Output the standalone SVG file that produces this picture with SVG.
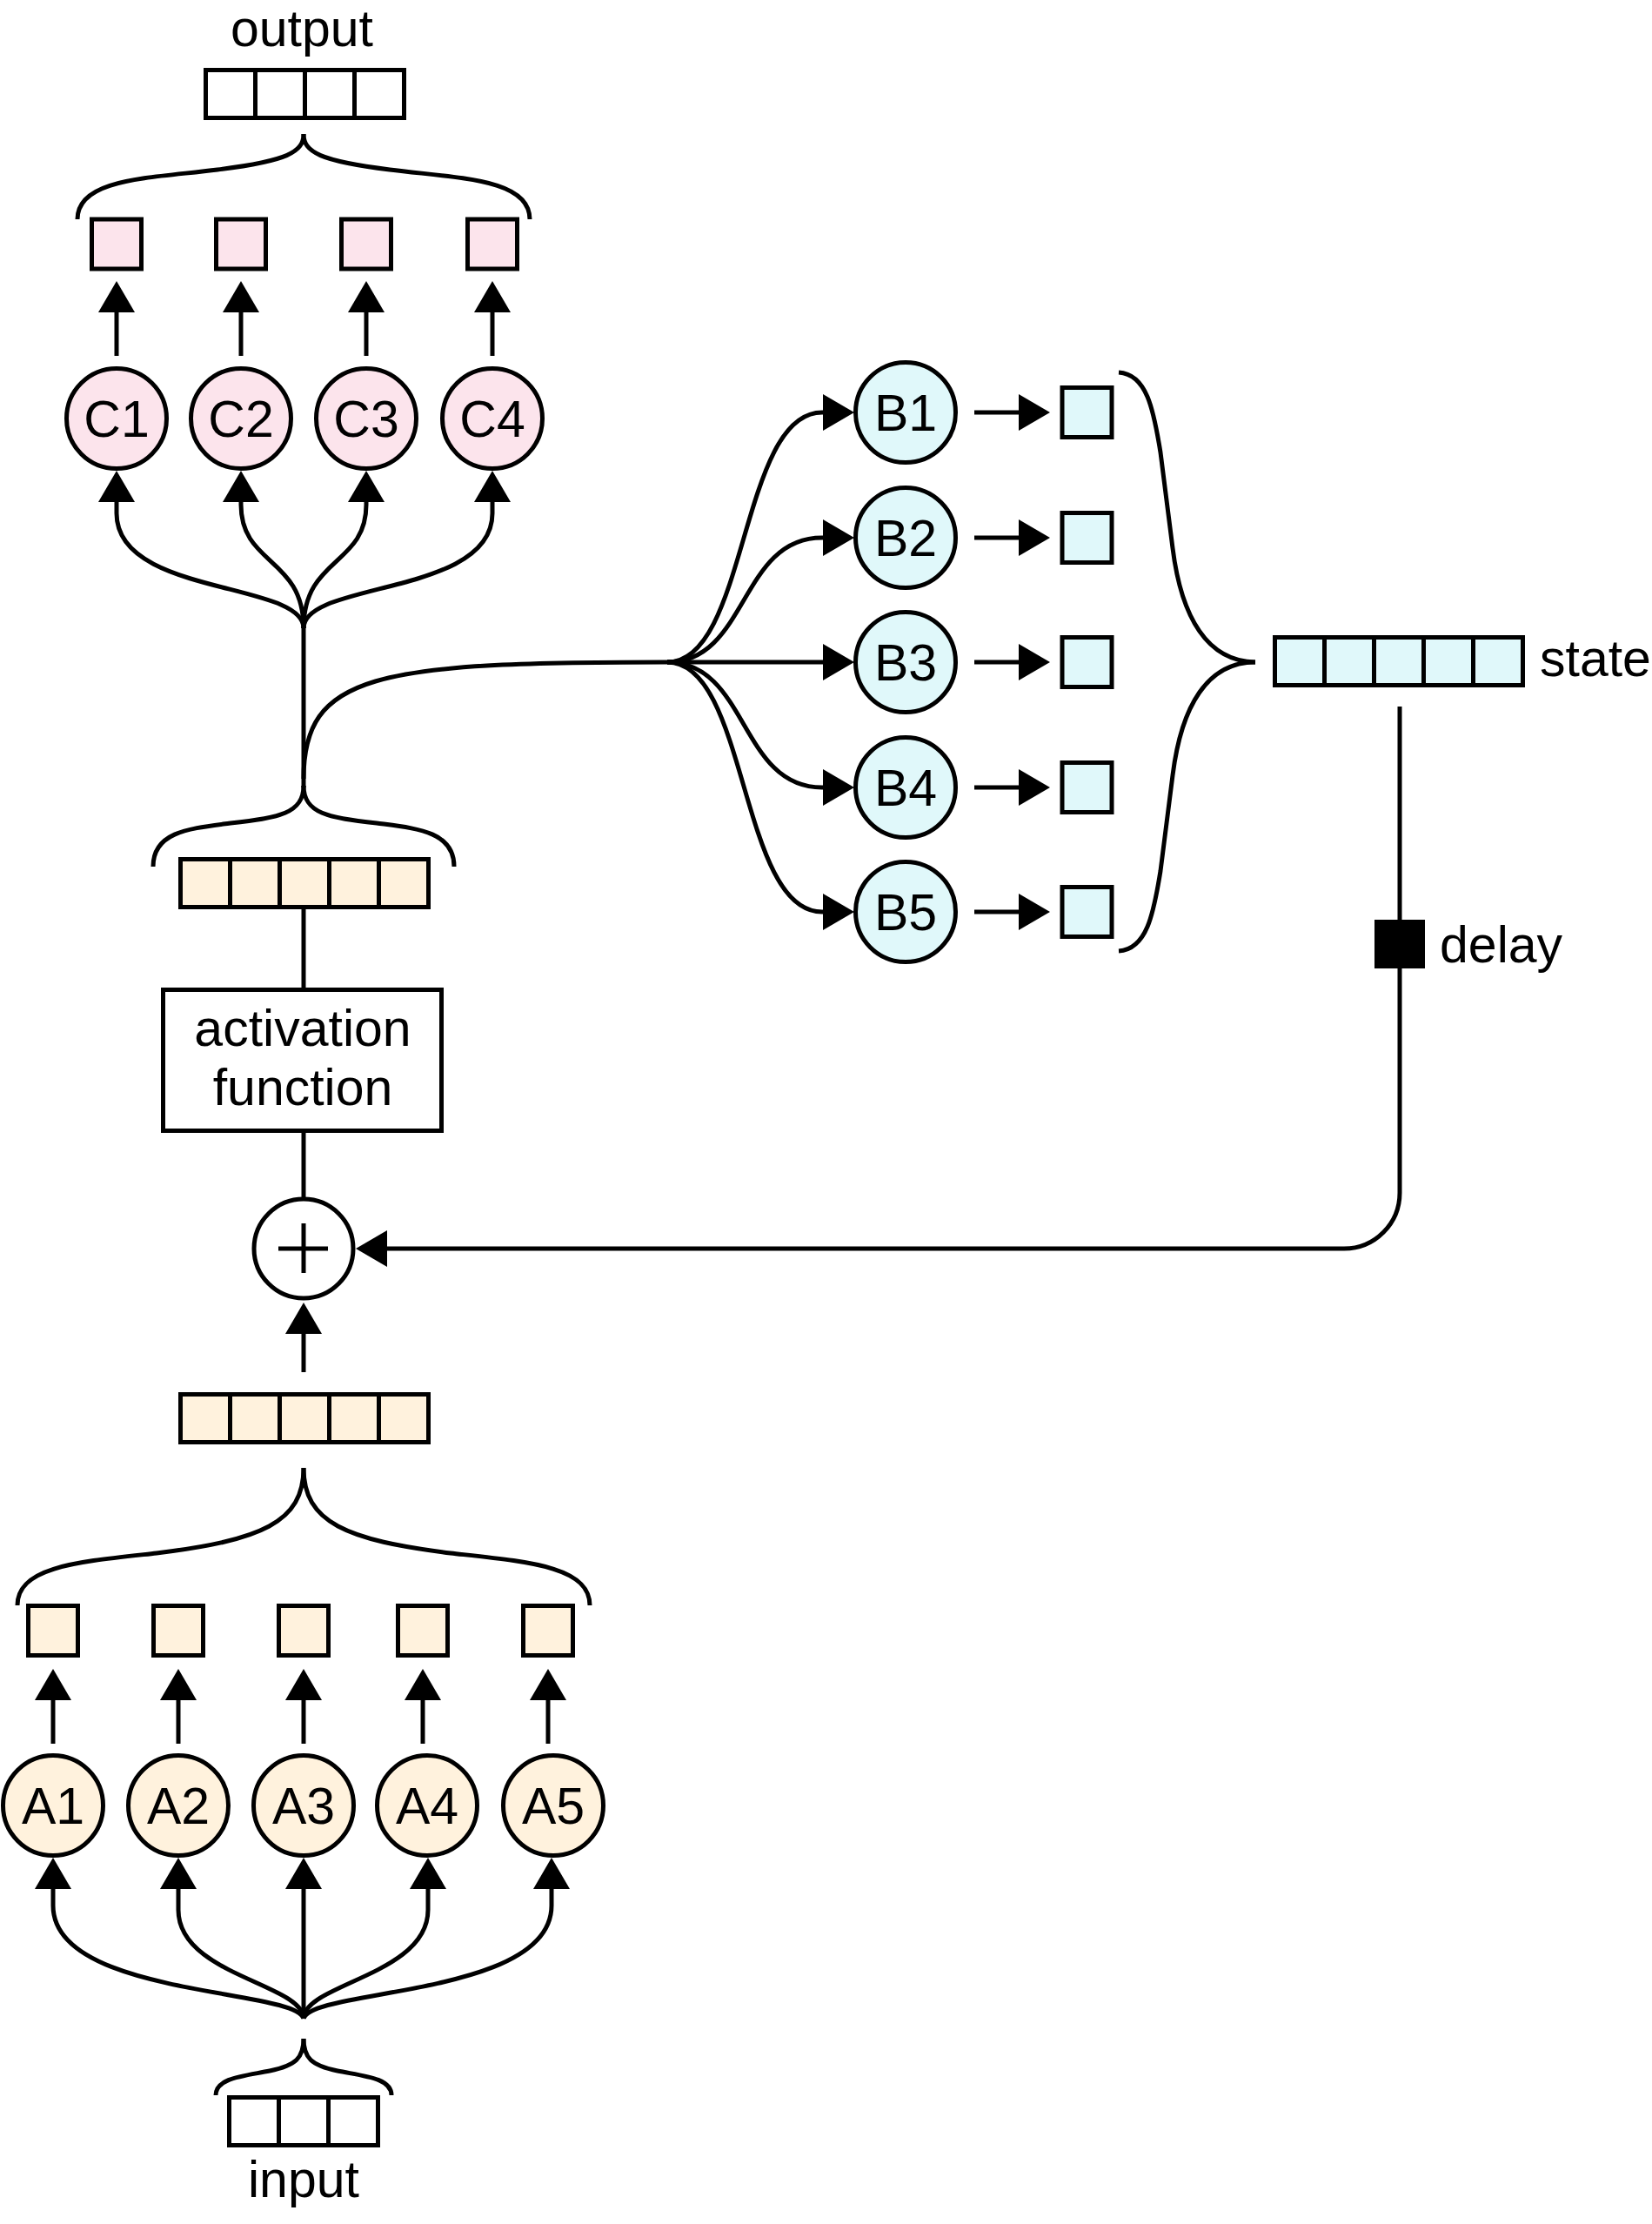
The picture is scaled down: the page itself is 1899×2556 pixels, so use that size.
<svg xmlns="http://www.w3.org/2000/svg" width="1899" height="2556" viewBox="0 0 1899 2556">
<style>
  .ln{fill:none;stroke:#000;stroke-width:5}
  .arr{fill:none;stroke:#000;stroke-width:5;marker-end:url(#ah)}
  .box{stroke:#000;stroke-width:5}
  .pink{fill:#FCE4EC}
  .cream{fill:#FFF2DD}
  .cyan{fill:#E0F8FA}
  .white{fill:#FFFFFF}
  .t{font-family:"Liberation Sans",Arial,Helvetica,sans-serif;font-size:59px;fill:#000}
  .c{text-anchor:middle}
</style>
<defs>
  <marker id="ah" markerUnits="userSpaceOnUse" viewBox="0 0 36 42" markerWidth="36" markerHeight="42" refX="20" refY="21" orient="auto">
    <path d="M0,0 L36,21 L0,42 z" fill="#000"/>
  </marker>
</defs>
<rect width="1899" height="2556" fill="#FFFFFF"/>

<!-- connectors -->
<g id="connectors">
  <!-- output brace -->
  <path class="ln" d="M89,252 C89,205 170,205 250,195 C330,185 349,175 349,154"/>
  <path class="ln" d="M609,252 C609,205 528,205 448,195 C368,185 349,175 349,154"/>
  <!-- C to squares -->
  <path class="arr" d="M134,409 L134,339"/>
  <path class="arr" d="M277,409 L277,339"/>
  <path class="arr" d="M421,409 L421,339"/>
  <path class="arr" d="M566,409 L566,339"/>
  <!-- trunk to C -->
  <path class="arr" d="M349,722 C349,668 134,685 134,590 L134,557"/>
  <path class="arr" d="M349,722 C349,640 277,650 277,580 L277,557"/>
  <path class="arr" d="M349,722 C349,640 421,650 421,580 L421,557"/>
  <path class="arr" d="M349,722 C349,668 566,685 566,590 L566,557"/>
  <path class="ln" d="M349,905 L349,720"/>
  <!-- branch to B fan -->
  <path class="ln" d="M349,895 C349,775 430,761 767,761"/>
  <path class="arr" d="M767,761 C860,761 850,474 945,474 L966,474"/>
  <path class="arr" d="M767,761 C860,761 850,618 945,618 L966,618"/>
  <path class="arr" d="M767,761 L966,761"/>
  <path class="arr" d="M767,761 C860,761 850,905 945,905 L966,905"/>
  <path class="arr" d="M767,761 C860,761 850,1048 945,1048 L966,1048"/>
  <!-- B to squares -->
  <path class="arr" d="M1120,474 L1191,474"/>
  <path class="arr" d="M1120,618 L1191,618"/>
  <path class="arr" d="M1120,761 L1191,761"/>
  <path class="arr" d="M1120,905 L1191,905"/>
  <path class="arr" d="M1120,1048 L1191,1048"/>
  <!-- B brace -->
  <path class="ln" d="M1286,428 C1318,430 1326,470 1334,520 L1348,630 C1358,710 1388,760 1443,761"/>
  <path class="ln" d="M1286,1093 C1318,1091 1326,1051 1334,1001 L1348,891 C1358,811 1388,761 1443,761"/>
  <!-- activation brace -->
  <path class="ln" d="M176,996 C176,955 220,952 265,946 C320,940 349,935 349,903"/>
  <path class="ln" d="M522,996 C522,955 478,952 433,946 C378,940 349,935 349,903"/>
  <!-- vector to activation box, box to plus -->
  <path class="ln" d="M349,1045 L349,1136"/>
  <path class="ln" d="M349,1300 L349,1379"/>
  <!-- lower vector to plus -->
  <path class="arr" d="M349,1577 L349,1513"/>
  <!-- state delay loop -->
  <path class="ln" d="M1609,812 L1609,1060"/>
  <path class="arr" d="M1609,1110 L1609,1371 A64,64 0 0 1 1545,1435 L425,1435"/>
  <!-- lower brace -->
  <path class="ln" d="M20,1845 C20,1800 90,1795 180,1785 C300,1770 349,1750 349,1687"/>
  <path class="ln" d="M678,1845 C678,1800 608,1795 518,1785 C398,1770 349,1750 349,1687"/>
  <!-- A to squares -->
  <path class="arr" d="M61,2004 L61,1934"/>
  <path class="arr" d="M205,2004 L205,1934"/>
  <path class="arr" d="M349,2004 L349,1934"/>
  <path class="arr" d="M486,2004 L486,1934"/>
  <path class="arr" d="M630,2004 L630,1934"/>
  <!-- input fan to A -->
  <path class="arr" d="M349,2320 C340,2285 61,2295 61,2190 L61,2151"/>
  <path class="arr" d="M349,2320 C349,2280 205,2270 205,2195 L205,2151"/>
  <path class="arr" d="M349,2320 L349,2151"/>
  <path class="arr" d="M349,2320 C349,2280 492,2270 492,2195 L492,2151"/>
  <path class="arr" d="M349,2320 C358,2285 634,2295 634,2190 L634,2151"/>
  <!-- input brace -->
  <path class="ln" d="M248,2408 C248,2388 280,2386 310,2380 C340,2374 349,2365 349,2343"/>
  <path class="ln" d="M450,2408 C450,2388 418,2386 388,2380 C358,2374 349,2365 349,2343"/>
</g>

<!-- output -->
<g id="output">
  <text class="t c" x="347" y="53">output</text>
  <rect class="box white" x="236.5" y="80.5" width="228" height="55"/>
  <path class="ln" d="M293.5,80.5 V135.5 M350.5,80.5 V135.5 M407.5,80.5 V135.5"/>
</g>

<g id="c-outputs">
  <rect class="box pink" x="105.5" y="252" width="57" height="57"/>
  <rect class="box pink" x="248.5" y="252" width="57" height="57"/>
  <rect class="box pink" x="392.5" y="252" width="57" height="57"/>
  <rect class="box pink" x="537.5" y="252" width="57" height="57"/>
</g>

<g id="C1"><circle class="box pink" cx="134" cy="481" r="57.5"/><text class="t c" x="134" y="502">C1</text></g>
<g id="C2"><circle class="box pink" cx="277" cy="481" r="57.5"/><text class="t c" x="277" y="502">C2</text></g>
<g id="C3"><circle class="box pink" cx="421" cy="481" r="57.5"/><text class="t c" x="421" y="502">C3</text></g>
<g id="C4"><circle class="box pink" cx="566" cy="481" r="57.5"/><text class="t c" x="566" y="502">C4</text></g>

<g id="B1"><circle class="box cyan" cx="1041" cy="474" r="57.5"/><text class="t c" x="1041" y="495">B1</text></g>
<g id="B2"><circle class="box cyan" cx="1041" cy="618" r="57.5"/><text class="t c" x="1041" y="639">B2</text></g>
<g id="B3"><circle class="box cyan" cx="1041" cy="761" r="57.5"/><text class="t c" x="1041" y="782">B3</text></g>
<g id="B4"><circle class="box cyan" cx="1041" cy="905" r="57.5"/><text class="t c" x="1041" y="926">B4</text></g>
<g id="B5"><circle class="box cyan" cx="1041" cy="1048" r="57.5"/><text class="t c" x="1041" y="1069">B5</text></g>

<g id="b-outputs">
  <rect class="box cyan" x="1221" y="445.5" width="57" height="57"/>
  <rect class="box cyan" x="1221" y="589.5" width="57" height="57"/>
  <rect class="box cyan" x="1221" y="732.5" width="57" height="57"/>
  <rect class="box cyan" x="1221" y="876.5" width="57" height="57"/>
  <rect class="box cyan" x="1221" y="1019.5" width="57" height="57"/>
</g>

<g id="state">
  <rect class="box cyan" x="1465.5" y="732.5" width="285" height="55"/>
  <path class="ln" d="M1522.5,732.5 V787.5 M1579.5,732.5 V787.5 M1636.5,732.5 V787.5 M1693.5,732.5 V787.5"/>
  <text class="t" x="1770" y="777">state</text>
</g>

<g id="delay">
  <rect x="1580" y="1057" width="58" height="56" fill="#000"/>
  <text class="t" x="1655" y="1106">delay</text>
</g>

<g id="hidden-vector">
  <rect class="box cream" x="207.5" y="987.5" width="285" height="55"/>
  <path class="ln" d="M264.5,987.5 V1042.5 M321.5,987.5 V1042.5 M378.5,987.5 V1042.5 M435.5,987.5 V1042.5"/>
</g>

<g id="activation">
  <rect class="box white" x="187.5" y="1137.5" width="320" height="162"/>
  <text class="t c" x="348" y="1202">activation</text>
  <text class="t c" x="348" y="1270">function</text>
</g>

<g id="sum">
  <circle class="box white" cx="349" cy="1435" r="57"/>
  <path class="ln" d="M320,1435 H377 M349,1406 V1463"/>
</g>

<g id="a-vector">
  <rect class="box cream" x="207.5" y="1602.5" width="285" height="55"/>
  <path class="ln" d="M264.5,1602.5 V1657.5 M321.5,1602.5 V1657.5 M378.5,1602.5 V1657.5 M435.5,1602.5 V1657.5"/>
</g>

<g id="a-outputs">
  <rect class="box cream" x="32.5" y="1845.5" width="57" height="57"/>
  <rect class="box cream" x="176.5" y="1845.5" width="57" height="57"/>
  <rect class="box cream" x="320.5" y="1845.5" width="57" height="57"/>
  <rect class="box cream" x="457.5" y="1845.5" width="57" height="57"/>
  <rect class="box cream" x="601.5" y="1845.5" width="57" height="57"/>
</g>

<g id="A1"><circle class="box cream" cx="61" cy="2075" r="57.5"/><text class="t c" x="61" y="2096">A1</text></g>
<g id="A2"><circle class="box cream" cx="205" cy="2075" r="57.5"/><text class="t c" x="205" y="2096">A2</text></g>
<g id="A3"><circle class="box cream" cx="349" cy="2075" r="57.5"/><text class="t c" x="349" y="2096">A3</text></g>
<g id="A4"><circle class="box cream" cx="491" cy="2075" r="57.5"/><text class="t c" x="491" y="2096">A4</text></g>
<g id="A5"><circle class="box cream" cx="636" cy="2075" r="57.5"/><text class="t c" x="636" y="2096">A5</text></g>

<g id="input">
  <rect class="box white" x="263.5" y="2410.5" width="171" height="55"/>
  <path class="ln" d="M320.5,2410.5 V2465.5 M377.5,2410.5 V2465.5"/>
  <text class="t c" x="349" y="2525">input</text>
</g>
</svg>
